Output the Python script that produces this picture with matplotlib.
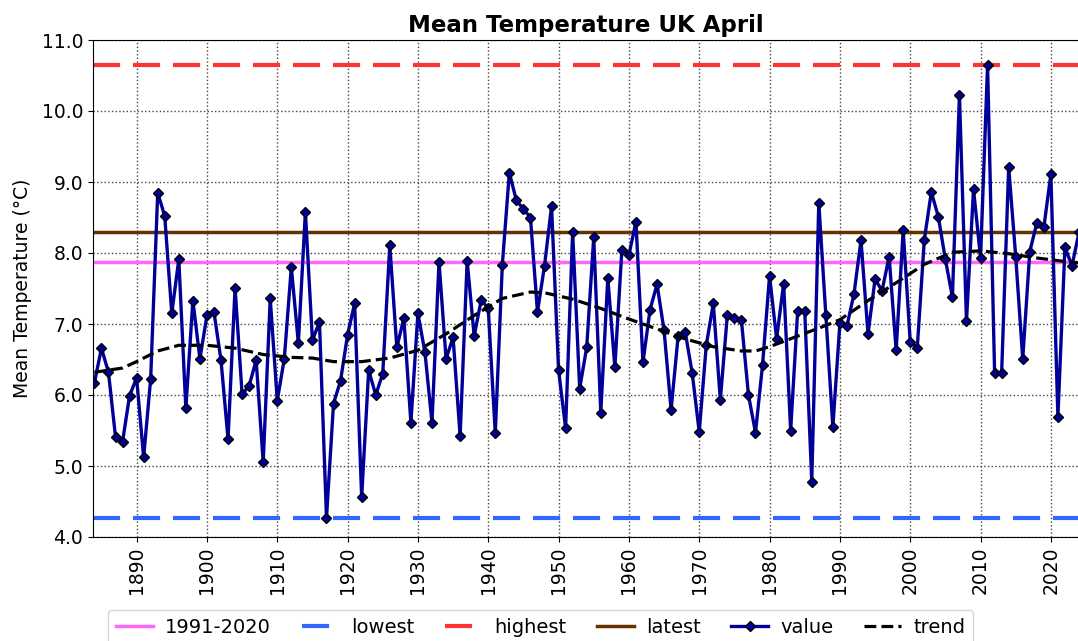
import matplotlib
matplotlib.use('Agg')
from matplotlib import pyplot as plt
import numpy as np

# April mean temperature, UK, 1884-2024 (degC)
years = list(range(1884, 2025))
values = [
    6.17, 6.66, 6.32, 5.41, 5.34, 5.99,                              # 1884-1889
    6.24, 5.12, 6.23, 8.85, 8.52, 7.15, 7.91, 5.81, 7.33, 6.51,      # 1890s
    7.12, 7.17, 6.49, 5.38, 7.51, 6.01, 6.13, 6.49, 5.05, 7.36,      # 1900s
    5.92, 6.51, 7.80, 6.73, 8.58, 6.77, 7.03, 4.27, 5.88, 6.20,      # 1910s
    6.85, 7.29, 4.56, 6.35, 6.00, 6.30, 8.11, 6.67, 7.08, 5.61,      # 1920s
    7.15, 6.60, 5.61, 7.88, 6.51, 6.81, 5.42, 7.89, 6.83, 7.34,      # 1930s
    7.22, 5.46, 7.83, 9.13, 8.74, 8.62, 8.50, 7.17, 7.82, 8.66,      # 1940s
    6.35, 5.53, 8.30, 6.09, 6.67, 8.22, 5.75, 7.65, 6.39, 8.04,      # 1950s
    7.97, 8.44, 6.46, 7.20, 7.56, 6.91, 5.79, 6.83, 6.89, 6.31,      # 1960s
    5.48, 6.70, 7.29, 5.93, 7.13, 7.09, 7.05, 6.00, 5.47, 6.42,      # 1970s
    7.68, 6.79, 7.57, 5.50, 7.19, 7.19, 4.78, 8.71, 7.12, 5.55,      # 1980s
    7.01, 6.97, 7.42, 8.18, 6.86, 7.63, 7.47, 7.95, 6.63, 8.32,      # 1990s
    6.75, 6.66, 8.18, 8.86, 8.51, 7.91, 7.38, 10.23, 7.04, 8.90,     # 2000s
    7.93, 10.65, 6.31, 6.31, 9.21, 7.95, 6.51, 8.02, 8.42, 8.36,     # 2010s
    9.11, 5.69, 8.08, 7.82, 8.29,                                    # 2020s
]

# smoothed trend, read at a few years
trend_years = [1884, 1888, 1890, 1893, 1896, 1900, 1904, 1908, 1912, 1915,
               1918, 1922, 1926, 1930, 1934, 1938, 1942, 1946, 1948, 1952,
               1956, 1960, 1964, 1968, 1972, 1976, 1978, 1980, 1984, 1988,
               1990, 1994, 1998, 2002, 2006, 2010, 2014, 2018, 2022, 2024]
trend_values = [6.32, 6.38, 6.47, 6.62, 6.70, 6.70, 6.66, 6.57, 6.53, 6.52,
                6.47, 6.47, 6.52, 6.63, 6.86, 7.12, 7.36, 7.45, 7.44, 7.35,
                7.22, 7.07, 6.93, 6.79, 6.68, 6.62, 6.62, 6.68, 6.83, 6.98,
                7.06, 7.33, 7.58, 7.84, 8.01, 8.03, 7.99, 7.93, 7.88, 7.86]

baseline = 7.87  # 1991-2020 average
lowest = min(values)
highest = max(values)
latest = values[-1]

W, H = 1078, 641
fig = plt.figure(figsize=(W / 100, H / 100), dpi=100)
ax = fig.add_axes([93 / W, (H - 537) / H, (1079 - 93) / W, 497 / H])

long_dash = (6.5, 3.1)
ax.axhline(baseline, color='#ff66ff', lw=2.5, label='1991-2020')
ax.axhline(lowest, color='#3366ff', lw=3, dashes=long_dash, label='lowest')
ax.axhline(highest, color='#ff3333', lw=3, dashes=long_dash, label='highest')
ax.axhline(latest, color='#663300', lw=2.5, label='latest')
ax.plot(years, values, color='#000099', lw=2.4, marker='D', ms=5.5,
        mfc='#000099', mec='black', mew=1, label='value')
ax.plot(trend_years, trend_values, color='black', lw=2.3, ls='--', label='trend')

ax.set_xlim(1883.8, 2024)
ax.set_ylim(4, 11)
ax.set_xticks(np.arange(1890, 2021, 10))
ax.set_yticks(np.arange(4, 11.01, 1))
ax.yaxis.set_major_formatter(matplotlib.ticker.FormatStrFormatter('%.1f'))
ax.tick_params(axis='both', labelsize=13.5)
ax.tick_params(axis='x', labelrotation=90)
ax.grid(True, linestyle=':', color='#444444', linewidth=1)

ax.set_ylabel('Mean Temperature (°C)', fontsize=13.5, labelpad=7)
ax.set_title('Mean Temperature UK April', fontsize=16.5, fontweight='bold')

ax.legend(loc='upper left', bbox_to_anchor=(108 / W, 31 / H),
          bbox_transform=fig.transFigure, borderaxespad=0, ncol=6,
          fontsize=14, handlelength=1.9, handletextpad=0.63,
          columnspacing=1.58)

fig.savefig('out.png', dpi=100)
